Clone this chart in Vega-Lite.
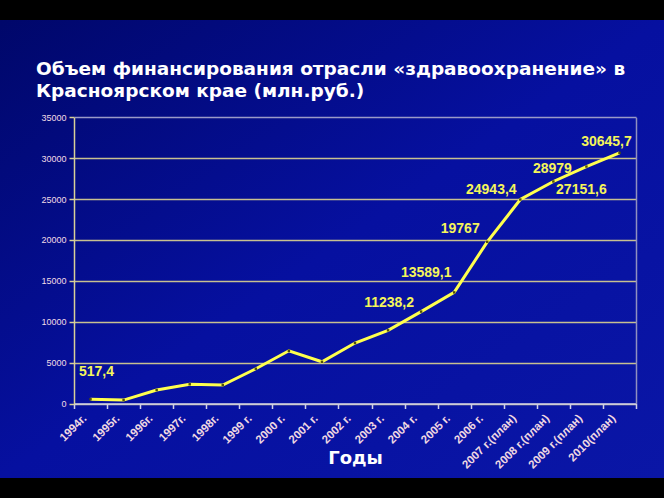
{
  "$schema": "https://vega.github.io/schema/vega-lite/v6.json",
  "width": 664,
  "height": 458,
  "autosize": {"type": "none"},
  "padding": {"top": 20, "bottom": 20, "left": 0, "right": 0},
  "background": "#000000",
  "config": {
    "view": {
      "stroke": null,
      "fill": {"gradient": "linear", "x1": 0, "y1": 0, "x2": 1, "y2": 1,
        "stops": [{"offset": 0, "color": "#00076a"}, {"offset": 0.5, "color": "#0610a0"}, {"offset": 1, "color": "#0a16a6"}]}
    },
    "font": "Liberation Sans"
  },
  "title": {
    "text": ["Объем финансирования отрасли «здравоохранение» в", "Красноярском крае (млн.руб.)"],
    "anchor": "start",
    "frame": "group",
    "orient": "top",
    "offset": -80,
    "dx": 36,
    "font": "DejaVu Sans",
    "fontSize": 18.5,
    "fontWeight": "bold",
    "color": "#ffffff",
    "lineHeight": 22
  },
  "data": {
    "values": [
      {"year": "1994г.", "value": 517.4, "label": "517,4"},
      {"year": "1995г.", "value": 420, "label": ""},
      {"year": "1996г.", "value": 1650, "label": ""},
      {"year": "1997г.", "value": 2350, "label": ""},
      {"year": "1998г.", "value": 2250, "label": ""},
      {"year": "1999 г.", "value": 4250, "label": ""},
      {"year": "2000 г.", "value": 6450, "label": ""},
      {"year": "2001 г.", "value": 5100, "label": ""},
      {"year": "2002 г.", "value": 7400, "label": ""},
      {"year": "2003 г.", "value": 8950, "label": ""},
      {"year": "2004 г.", "value": 11238.2, "label": "11238,2"},
      {"year": "2005 г.", "value": 13589.1, "label": "13589,1"},
      {"year": "2006 г.", "value": 19767, "label": "19767"},
      {"year": "2007 г.(план)", "value": 24943.4, "label": "24943,4"},
      {"year": "2008 г.(план)", "value": 27151.6, "label": "27151,6"},
      {"year": "2009 г.(план)", "value": 28979, "label": "28979"},
      {"year": "2010(план)", "value": 30645.7, "label": "30645,7"}
    ]
  },
  "encoding": {
    "x": {
      "field": "year", "type": "nominal", "sort": null,
      "scale": {"range": [74, 636], "paddingInner": 0, "paddingOuter": 0},
      "axis": {
        "title": "Годы",
        "titleFont": "DejaVu Sans", "titleFontSize": 18, "titleFontWeight": "bold", "titleColor": "#ffffff",
        "titleBaseline": "alphabetic", "titleY": 60,
        "offset": -74.5,
        "tickBand": "extent",
        "labelAngle": -45, "labelAlign": "right", "labelBaseline": "middle",
        "labelPadding": 8, "labelOffset": -6,
        "labelFont": "Liberation Sans", "labelFontSize": 11.5, "labelFontWeight": "bold", "labelColor": "#f0d8e2",
        "domainColor": "#d0d0e8", "domainWidth": 1.5,
        "tickColor": "#d0d0e8", "tickSize": 5, "tickWidth": 1.5,
        "grid": false
      }
    },
    "y": {
      "field": "value", "type": "quantitative",
      "scale": {"domain": [0, 35000], "range": [383.5, 97.3], "nice": false, "zero": true},
      "axis": null
    }
  },
  "layer": [
    {
      "mark": {"type": "line", "color": "#ffff4d", "strokeWidth": 3},
      "encoding": {
        "y": {
          "field": "value", "type": "quantitative",
          "scale": {"domain": [0, 35000], "range": [383.5, 97.3], "nice": false, "zero": true},
          "axis": {
            "title": null,
            "offset": -74,
            "values": [0, 5000, 10000, 15000, 20000, 25000, 30000, 35000],
            "format": "d",
            "labelFont": "Liberation Sans", "labelFontSize": 9, "labelColor": "#f0dce6", "labelPadding": 3,
            "domainColor": "#d8d098", "domainWidth": 1.5,
            "tickColor": "#d8d098", "tickSize": 5, "tickWidth": 1.5,
            "grid": true,
            "gridColor": {"condition": {"test": "datum.value === 35000", "value": "#9a9ac8"}, "value": "#c8c090"},
            "gridWidth": 1.5, "gridOpacity": 1
          }
        }
      }
    },
    {
      "mark": {"type": "point", "shape": "square", "size": 6, "filled": true, "color": "#50500a", "opacity": 1},
      "encoding": {
        "y": {
          "field": "value", "type": "quantitative",
          "scale": {"domain": [0, 35000], "range": [383.5, 97.3], "nice": false, "zero": true},
          "axis": {
            "orient": "right", "offset": -28, "title": null,
            "labels": false, "ticks": false, "grid": false,
            "domainColor": "#9090c0", "domainWidth": 1.5
          }
        }
      }
    },
    {"transform": [{"filter": "datum.year === '1994г.'"}],
     "mark": {"type": "text", "dx": 6, "dy": -27, "font": "Liberation Sans", "fontSize": 14, "fontWeight": "bold", "color": "#f5f55a"},
     "encoding": {"text": {"field": "label"}}},
    {"transform": [{"filter": "datum.year === '2004 г.'"}],
     "mark": {"type": "text", "dx": -32, "dy": -9, "font": "Liberation Sans", "fontSize": 14, "fontWeight": "bold", "color": "#f5f55a"},
     "encoding": {"text": {"field": "label"}}},
    {"transform": [{"filter": "datum.year === '2005 г.'"}],
     "mark": {"type": "text", "dx": -28, "dy": -19, "font": "Liberation Sans", "fontSize": 14, "fontWeight": "bold", "color": "#f5f55a"},
     "encoding": {"text": {"field": "label"}}},
    {"transform": [{"filter": "datum.year === '2006 г.'"}],
     "mark": {"type": "text", "dx": -27, "dy": -13, "font": "Liberation Sans", "fontSize": 14, "fontWeight": "bold", "color": "#f5f55a"},
     "encoding": {"text": {"field": "label"}}},
    {"transform": [{"filter": "datum.year === '2007 г.(план)'"}],
     "mark": {"type": "text", "dx": -29, "dy": -10, "font": "Liberation Sans", "fontSize": 14, "fontWeight": "bold", "color": "#f5f55a"},
     "encoding": {"text": {"field": "label"}}},
    {"transform": [{"filter": "datum.year === '2008 г.(план)'"}],
     "mark": {"type": "text", "dx": 28, "dy": 9, "font": "Liberation Sans", "fontSize": 14, "fontWeight": "bold", "color": "#f5f55a"},
     "encoding": {"text": {"field": "label"}}},
    {"transform": [{"filter": "datum.year === '2009 г.(план)'"}],
     "mark": {"type": "text", "dx": -34, "dy": 2, "font": "Liberation Sans", "fontSize": 14, "fontWeight": "bold", "color": "#f5f55a"},
     "encoding": {"text": {"field": "label"}}},
    {"transform": [{"filter": "datum.year === '2010(план)'"}],
     "mark": {"type": "text", "dx": -13, "dy": -11, "font": "Liberation Sans", "fontSize": 14, "fontWeight": "bold", "color": "#f5f55a"},
     "encoding": {"text": {"field": "label"}}}
  ],
  "resolve": {"axis": {"y": "independent"}}
}
